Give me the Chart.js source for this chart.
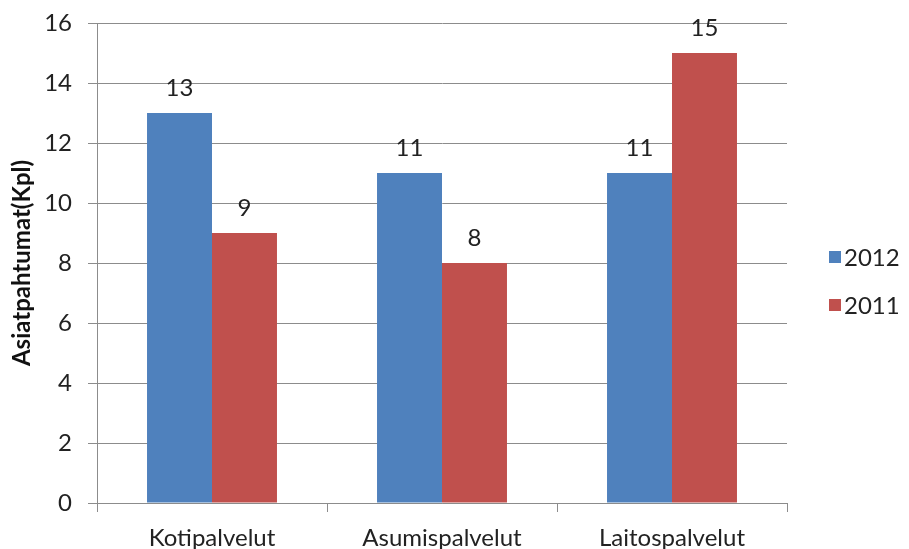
<!DOCTYPE html>
<html>
<head>
<meta charset="utf-8">
<script src="https://cdn.jsdelivr.net/npm/chart.js@4/dist/chart.umd.min.js"></script>
<style>
  html, body { margin: 0; padding: 0; background: #fff; }
  #wrap { width: 909px; height: 549px; position: relative; }
</style>
</head>
<body>
<div id="wrap"><canvas id="chart" width="909" height="549"></canvas></div>
<script>
// Asiatpahtumat palveluittain
const categories = ['Kotipalvelut', 'Asumispalvelut', 'Laitospalvelut'];
const values2012 = [13, 11, 11];
const values2011 = [9, 8, 15];
const seriesLabels = ['2012', '2011'];
const seriesColors = ['#4F81BD', '#C0504D'];

const FONT = 'Lato, "Open Sans", sans-serif';
const GRID = '#8c8c8c';

// value labels above the bars
const barValues = {
  id: 'barValues',
  afterDatasetsDraw(chart) {
    const ctx = chart.ctx;
    ctx.save();
    ctx.font = '24px ' + FONT;
    ctx.fillStyle = '#222';
    ctx.textAlign = 'center';
    ctx.textBaseline = 'middle';
    chart.data.datasets.forEach((ds, i) => {
      chart.getDatasetMeta(i).data.forEach((bar, j) => {
        ctx.fillText(ds.data[j], bar.x, bar.y - 25);
      });
    });
    ctx.restore();
  }
};

// legend on the right side
const sideLegend = {
  id: 'sideLegend',
  afterDraw(chart) {
    const ctx = chart.ctx;
    ctx.save();
    ctx.font = '24px ' + FONT;
    ctx.textBaseline = 'middle';
    ctx.textAlign = 'left';
    chart.data.datasets.forEach((ds, i) => {
      const y = 257 + i * 48;
      ctx.fillStyle = ds.backgroundColor;
      ctx.fillRect(829, y - 6, 12, 12);
      ctx.fillStyle = '#222';
      ctx.fillText(ds.label, 844, y + 1);
    });
    ctx.restore();
  }
};

new Chart(document.getElementById('chart'), {
  type: 'bar',
  data: {
    labels: categories,
    datasets: [
      { label: seriesLabels[0], data: values2012, backgroundColor: seriesColors[0] },
      { label: seriesLabels[1], data: values2011, backgroundColor: seriesColors[1] }
    ]
  },
  options: {
    responsive: false,
    animation: false,
    layout: { padding: { top: 23, right: 122, left: 0, bottom: 0 } },
    datasets: { bar: { categoryPercentage: 0.565, barPercentage: 1 } },
    plugins: { legend: { display: false }, tooltip: { enabled: false } },
    scales: {
      x: {
        grid: { drawOnChartArea: false, drawTicks: true, tickLength: 9, color: GRID, offset: true },
        border: { color: GRID, width: 1 },
        ticks: { font: { family: FONT, size: 24 }, color: '#222', padding: 12 },
        afterFit(scale) { scale.height = 46; }
      },
      y: {
        min: 0,
        max: 16,
        ticks: { stepSize: 2, font: { family: FONT, size: 24 }, color: '#222', padding: 16 },
        grid: { color: GRID, tickLength: 9 },
        border: { color: GRID, width: 1 },
        title: {
          display: true,
          text: 'Asiatpahtumat(Kpl)',
          font: { family: FONT, size: 24, weight: 'bold' },
          color: '#111',
          padding: { top: 8, bottom: 0 }
        },
        afterFit(scale) {
          scale.width = 97;
          scale.paddingTop = 0;
          scale.paddingBottom = 0;
        }
      }
    }
  },
  plugins: [barValues, sideLegend]
});
</script>
</body>
</html>
